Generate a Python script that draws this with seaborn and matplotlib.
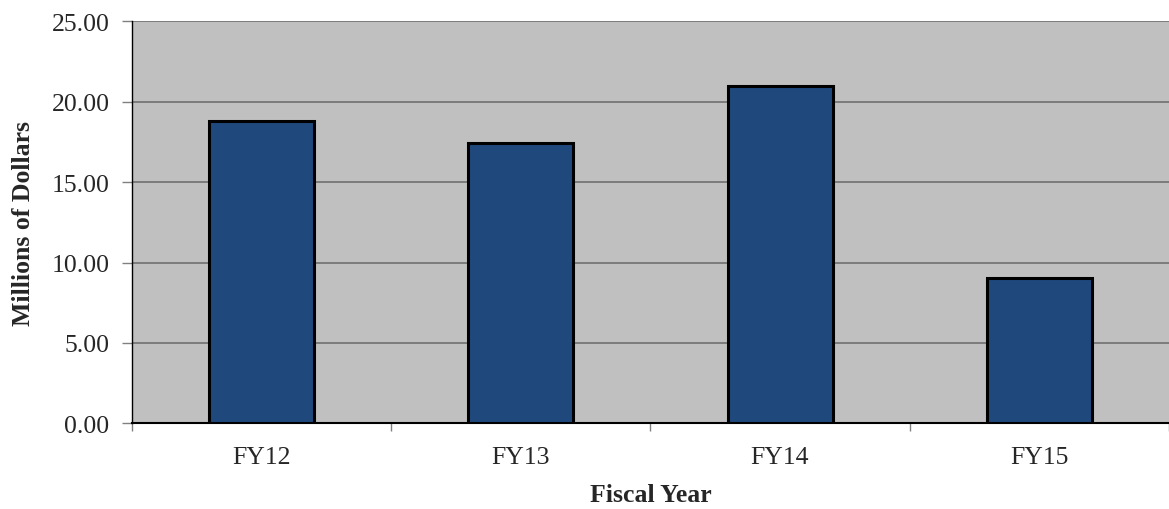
import numpy as np
import pandas as pd
import seaborn as sns
import matplotlib.pyplot as plt
from matplotlib.ticker import FormatStrFormatter

years = ["FY12", "FY13", "FY14", "FY15"]
millions = [18.78, 17.45, 21.00, 9.02]

df = pd.DataFrame({"year": years, "millions": millions})

sns.set_style("white")
plt.rcParams['font.family'] = ['Liberation Serif', 'DejaVu Serif']

fig, ax = plt.subplots(figsize=(11.69, 5.10), dpi=100)
fig.subplots_adjust(left=0.1127, right=1.0, top=0.956, bottom=0.168)

sns.barplot(data=df, x="year", y="millions", color="#1F497D", width=0.405,
            edgecolor="black", linewidth=2.2, saturation=1, ax=ax, zorder=3)

ax.set_facecolor("#C0C0C0")
ax.set_ylim(0, 25)
ax.set_xlim(-0.5, 3.5)
ax.set_yticks(np.arange(0, 25.1, 5))
ax.yaxis.set_major_formatter(FormatStrFormatter("%.2f"))
ax.yaxis.grid(True, color="#707070", linewidth=1.2, zorder=1)
ax.set_axisbelow(True)

for s in ["top", "right"]:
    ax.spines[s].set_visible(False)
ax.spines["left"].set_color("black")
ax.spines["left"].set_linewidth(1)
ax.spines["bottom"].set_color("black")
ax.spines["bottom"].set_linewidth(1.5)

# category boundary ticks like the original
ax.set_xticks([0, 1, 2, 3])
ax.set_xticks([-0.5, 0.5, 1.5, 2.5, 3.5], minor=True)
ax.tick_params(axis="x", which="major", length=0, labelsize=18.5, pad=16)
ax.tick_params(axis="x", which="minor", length=6, color="#808080", width=1, direction="out", bottom=True)
ax.tick_params(axis="y", which="major", length=7, color="#808080", width=1, direction="out",
               labelsize=18.5, left=True, pad=9)

ax.set_xlabel("Fiscal Year", fontsize=18.5, fontweight="bold", labelpad=11)
ax.set_ylabel("Millions of Dollars", fontsize=18.5, fontweight="bold", labelpad=12)

fig.savefig("out.png", dpi=100)
